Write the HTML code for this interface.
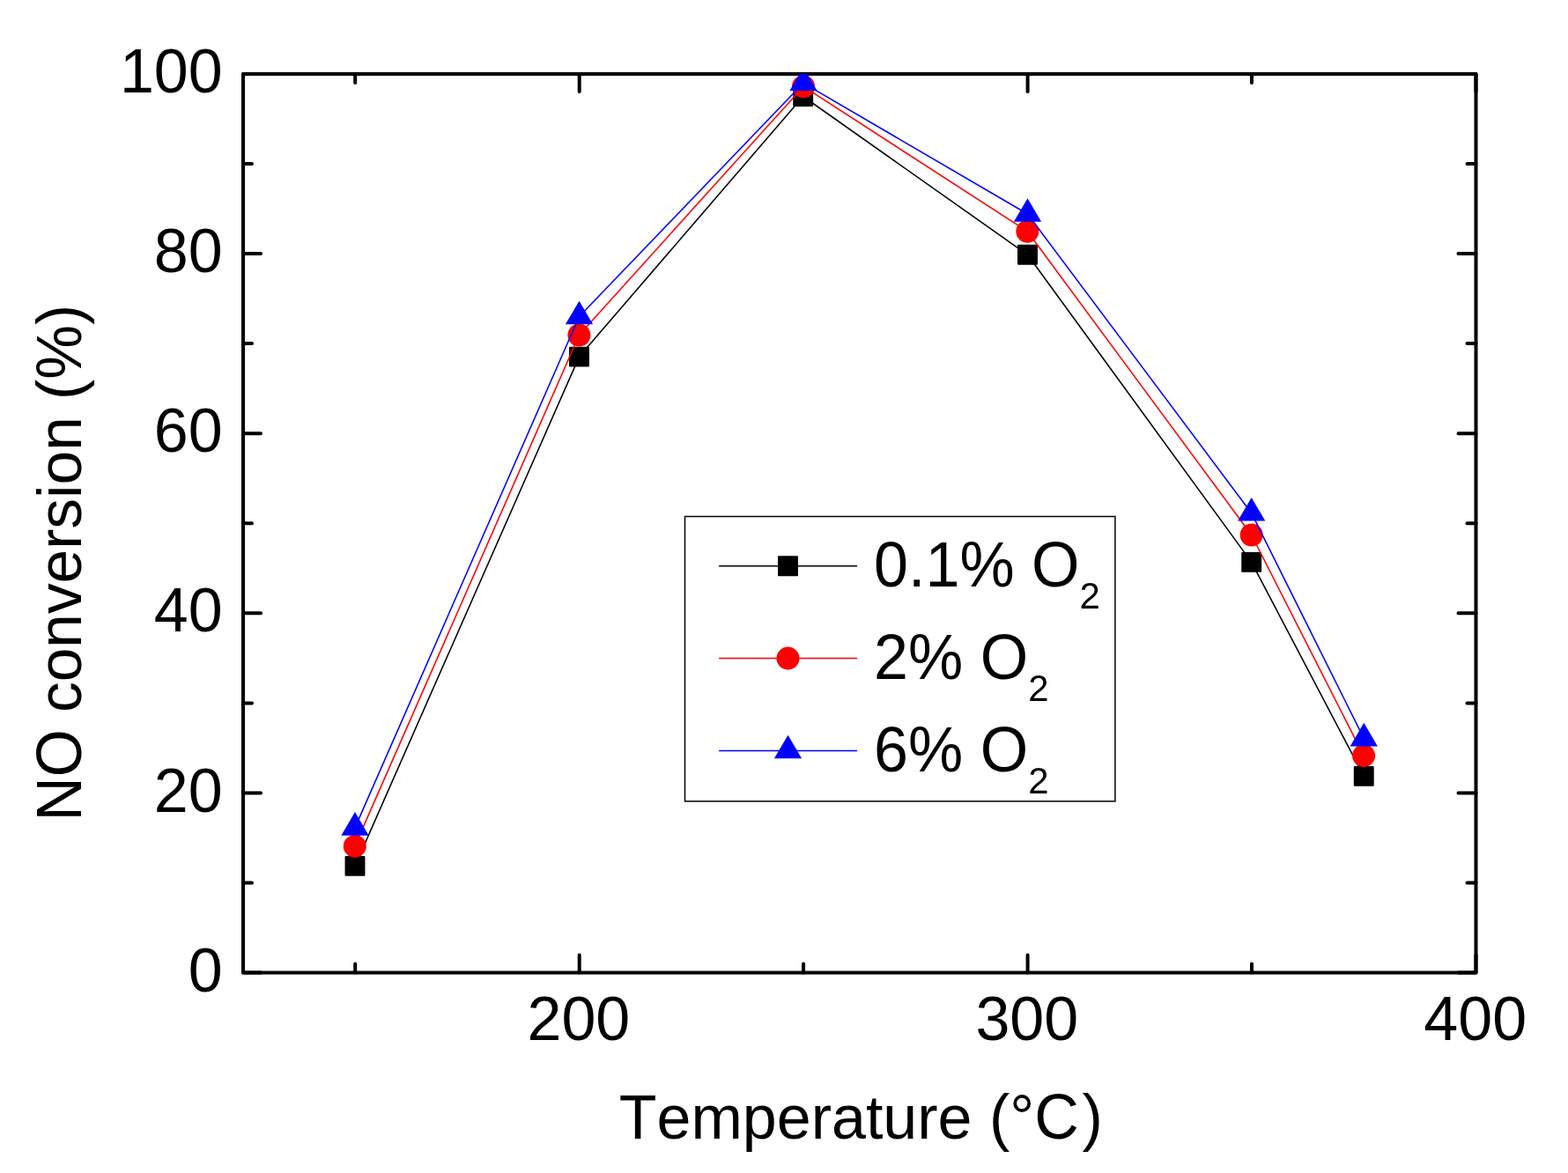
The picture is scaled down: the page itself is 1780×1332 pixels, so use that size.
<!DOCTYPE html>
<html><head><meta charset="utf-8"><title>NO conversion vs Temperature</title>
<style>
html,body{margin:0;padding:0;background:#fff;}
body{width:1780px;height:1332px;overflow:hidden;}
svg{display:block;}
text{font-family:"Liberation Sans",Arial,sans-serif;fill:#000;font-kerning:none;}
</style></head><body>
<svg width="1780" height="1332" viewBox="0 0 1780 1332">
<rect width="1780" height="1332" fill="#fff"/>
<defs><clipPath id="pc"><rect x="276.0" y="84.0" width="1399.5" height="1020.5"/></clipPath></defs>
<path d="M276.0 1104.5h20M1675.5 1104.5h-20M276.0 1002.5h10M1675.5 1002.5h-10M276.0 900.4h20M1675.5 900.4h-20M276.0 798.4h10M1675.5 798.4h-10M276.0 696.3h20M1675.5 696.3h-20M276.0 594.2h10M1675.5 594.2h-10M276.0 492.2h20M1675.5 492.2h-20M276.0 390.1h10M1675.5 390.1h-10M276.0 288.1h20M1675.5 288.1h-20M276.0 186.0h10M1675.5 186.0h-10M276.0 84.0h20M1675.5 84.0h-20M403.2 1104.5v-10M403.2 84.0v10M657.7 1104.5v-20M657.7 84.0v20M912.1 1104.5v-10M912.1 84.0v10M1166.6 1104.5v-20M1166.6 84.0v20M1421.0 1104.5v-10M1421.0 84.0v10M1675.5 1104.5v-20M1675.5 84.0v20" fill="none" stroke="#000" stroke-width="4.0" stroke-linecap="round"/>
<rect x="276.0" y="84.0" width="1399.5" height="1020.5" fill="none" stroke="#000" stroke-width="4.0" stroke-linejoin="round"/>
<g clip-path="url(#pc)">
<polyline points="403.0,983.4 657.5,405.1 911.7,109.5 1166.5,289.3 1420.7,638.4 1548.2,881.4" fill="none" stroke="#000" stroke-width="1.55" stroke-linejoin="round"/>
<g fill="#000"><rect x="391.55" y="971.95" width="22.9" height="22.9" rx="1"/><rect x="646.05" y="393.65" width="22.9" height="22.9" rx="1"/><rect x="900.25" y="98.05" width="22.9" height="22.9" rx="1"/><rect x="1155.05" y="277.85" width="22.9" height="22.9" rx="1"/><rect x="1409.25" y="626.95" width="22.9" height="22.9" rx="1"/><rect x="1536.80" y="869.95" width="22.9" height="22.9" rx="1"/></g>
<polyline points="402.8,960.9 657.4,380.5 912.0,98.2 1166.3,262.7 1420.7,607.5 1548.1,858.1" fill="none" stroke="#f00" stroke-width="1.55" stroke-linejoin="round"/>
<g fill="#f00"><circle cx="402.8" cy="960.9" r="13.0"/><circle cx="657.4" cy="380.5" r="13.0"/><circle cx="912.0" cy="98.2" r="13.0"/><circle cx="1166.3" cy="262.7" r="13.0"/><circle cx="1420.7" cy="607.5" r="13.0"/><circle cx="1548.1" cy="858.1" r="13.0"/></g>
<polyline points="403.0,939.9 657.5,359.5 912.0,94.3 1166.5,243.0 1420.7,582.7 1548.3,838.6" fill="none" stroke="#00f" stroke-width="1.55" stroke-linejoin="round"/>
<g fill="#00f"><polygon points="403.0,922.1 387.4,948.7 418.6,948.7"/><polygon points="657.5,341.7 641.9,368.3 673.1,368.3"/><polygon points="912.0,76.5 896.4,103.1 927.6,103.1"/><polygon points="1166.5,225.2 1150.9,251.8 1182.1,251.8"/><polygon points="1420.7,564.9 1405.1,591.5 1436.3,591.5"/><polygon points="1548.3,820.8 1532.7,847.4 1563.9,847.4"/></g>
</g>
<g font-size="70"><text transform="translate(252.7 1126.00) scale(1 1.016)" text-anchor="end">0</text><text transform="translate(252.7 921.90) scale(1 1.016)" text-anchor="end">20</text><text transform="translate(252.7 716.80) scale(1 1.016)" text-anchor="end">40</text><text transform="translate(252.7 513.00) scale(1 1.016)" text-anchor="end">60</text><text transform="translate(252.7 308.90) scale(1 1.016)" text-anchor="end">80</text><text transform="translate(252.7 104.90) scale(1 1.016)" text-anchor="end">100</text></g>
<g font-size="70"><text transform="translate(656.88 1181.0) scale(1 1.016)" text-anchor="middle">200</text><text transform="translate(1165.79 1181.0) scale(1 1.016)" text-anchor="middle">300</text><text transform="translate(1674.70 1181.0) scale(1 1.016)" text-anchor="middle">400</text></g>
<text transform="translate(702.8 1292.8) scale(1 1.0)" font-size="70">Temperature</text>
<text transform="translate(1122.97 1292.8) scale(1 1.02)" font-size="70">(°C<tspan dx="3.8">)</tspan></text>
<text transform="translate(91.9 932.5) rotate(-90) scale(0.992 1.0407)" font-size="70">NO</text>
<text transform="translate(91.9 809.05) rotate(-90) scale(0.992 1.0)" font-size="70">conversion</text>
<text transform="translate(91.9 453.95) rotate(-90) scale(0.992 1.02)" font-size="70">(%)</text>
<rect x="777.5" y="586.5" width="488.4" height="323.4" fill="none" stroke="#000" stroke-width="1.5"/>
<line x1="816.7" y1="642.75" x2="972.5" y2="642.75" stroke="#000" stroke-width="1.5" stroke-linecap="round"/>
<g fill="#000"><rect x="883.05" y="631.30" width="22.9" height="22.9" rx="1"/></g>
<text transform="translate(992.1 666.00) scale(1 1.025)" font-size="70">0.1% O<tspan font-size="42" dy="24.39">2</tspan></text>
<line x1="816.7" y1="747.6" x2="972.5" y2="747.6" stroke="#f00" stroke-width="1.5" stroke-linecap="round"/>
<g fill="#f00"><circle cx="894.5" cy="747.6" r="13.0"/></g>
<text transform="translate(992.1 770.90) scale(1 1.025)" font-size="70">2% O<tspan font-size="42" dy="24.39">2</tspan></text>
<line x1="816.7" y1="852.5" x2="972.5" y2="852.5" stroke="#00f" stroke-width="1.5" stroke-linecap="round"/>
<g fill="#00f"><polygon points="894.5,834.7 878.9,861.3 910.1,861.3"/></g>
<text transform="translate(992.1 876.00) scale(1 1.025)" font-size="70">6% O<tspan font-size="42" dy="24.39">2</tspan></text>
</svg></body></html>
